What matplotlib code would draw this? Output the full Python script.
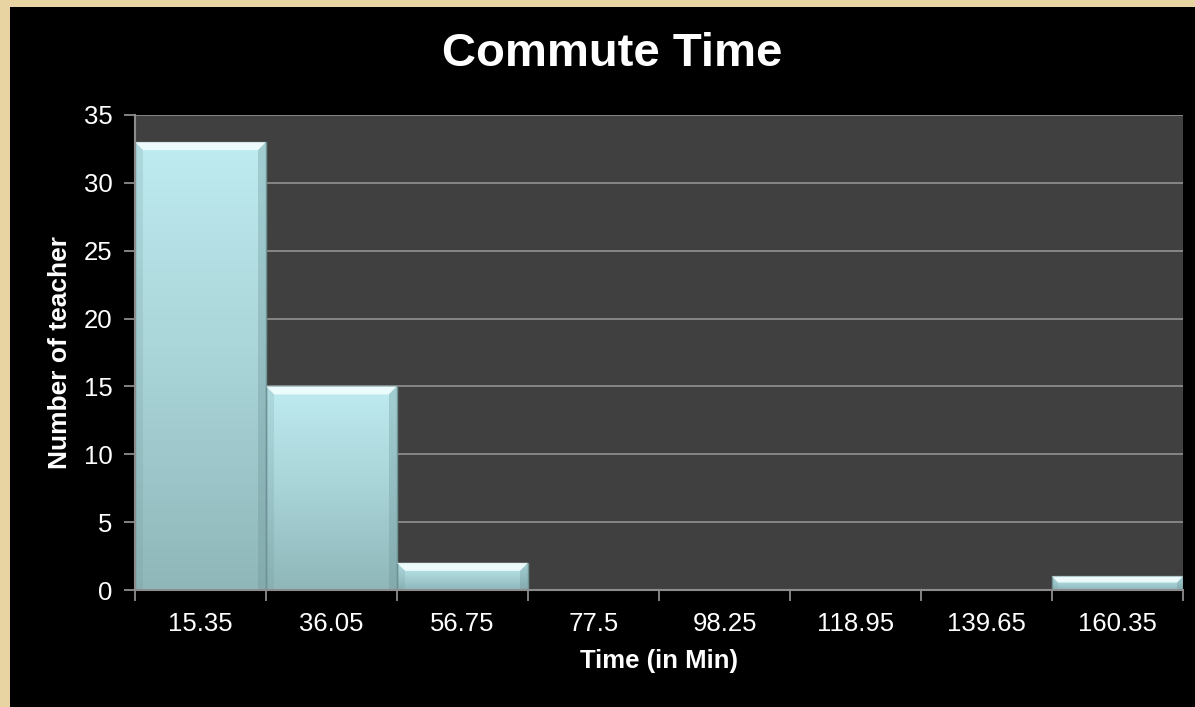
import numpy as np
import matplotlib
matplotlib.use("Agg")
import matplotlib.pyplot as plt
from matplotlib.patches import Rectangle, Polygon
from matplotlib.colors import LinearSegmentedColormap

categories = ["15.35", "36.05", "56.75", "77.5", "98.25", "118.95", "139.65", "160.35"]
counts = [33, 15, 2, 0, 0, 0, 0, 1]
y_ticks = [0, 5, 10, 15, 20, 25, 30, 35]
title = "Commute Time"
xlabel = "Time (in Min)"
ylabel = "Number of teacher"

plt.rcParams['font.family'] = ['Liberation Sans', 'DejaVu Sans']

W, H = 1195, 707
fig = plt.figure(figsize=(W / 100, H / 100), dpi=100)
fig.patch.set_facecolor('#E8D3A2')

# black chart frame
fig.patches.append(Rectangle((10 / W, 0), 1 - 10 / W, 1 - 7 / H, transform=fig.transFigure,
                             facecolor='black', edgecolor='none', zorder=-5))

left, right, top, bottom = 135, 1183, 115, 590
ax = fig.add_axes([left / W, 1 - bottom / H, (right - left) / W, (bottom - top) / H])
ax.set_zorder(1)
ax.set_facecolor('#404040')

n = len(categories)
x = np.arange(n)
ax.set_xlim(-0.5, n - 0.5)
ax.set_ylim(0, 35)

ax.yaxis.grid(True, color='#8C8C8C', linewidth=1.3, zorder=1)
ax.set_axisbelow(True)

bars = ax.bar(x, counts, width=1.0, color='none', edgecolor='#6F9295', linewidth=1.0, zorder=3)

cmap = LinearSegmentedColormap.from_list('bar', ['#8FB7BA', '#A8D3D7', '#BFECF1'])
grad = np.linspace(0, 1, 256).reshape(-1, 1)
for b, v in zip(bars, counts):
    if v <= 0:
        continue
    x0, w = b.get_x(), b.get_width()
    im = ax.imshow(grad, cmap=cmap, origin='lower', aspect='auto',
                   extent=(x0, x0 + w, 0, v), zorder=2)
    im.set_clip_path(b)

ax.set_xlim(-0.5, n - 0.5)
ax.set_ylim(0, 35)

# bevel highlight on top of each bar (pixel offsets from data corners)
fig.canvas.draw()
d = 8
for b, v in zip(bars, counts):
    if v <= 0:
        continue
    x0, w = b.get_x(), b.get_width()
    (px0, py), (px1, _) = ax.transData.transform([(x0, v), (x0 + w, v)])
    pyb = ax.transData.transform([(x0, 0)])[0][1]
    dd = min(d, (py - pyb) * 0.45)
    top_poly = Polygon([(px0, py), (px1, py), (px1 - dd, py - dd), (px0 + dd, py - dd)],
                       closed=True, facecolor='#F2FDFE', edgecolor='none',
                       zorder=4, alpha=0.9)
    side_r = Polygon([(px1, py), (px1, pyb), (px1 - dd, pyb), (px1 - dd, py - dd)],
                     closed=True, facecolor='#6E9598', edgecolor='none',
                     zorder=4, alpha=0.35)
    side_l = Polygon([(px0, py), (px0, pyb), (px0 + dd, pyb), (px0 + dd, py - dd)],
                     closed=True, facecolor='#6E9598', edgecolor='none',
                     zorder=4, alpha=0.2)
    for p in (top_poly, side_l, side_r):
        ax.add_artist(p)
        p.set_transform(matplotlib.transforms.IdentityTransform())
        p.set_clip_on(False)

# axes styling
for s in ['top', 'right']:
    ax.spines[s].set_visible(False)
for s in ['left', 'bottom']:
    ax.spines[s].set_color('#8C8C8C')
    ax.spines[s].set_linewidth(1.5)
    ax.spines[s].set_zorder(5)

ax.set_yticks(y_ticks)
ax.set_yticklabels([str(t) for t in y_ticks])
ax.tick_params(axis='y', colors='#8C8C8C', length=8, width=1.3, labelcolor='white',
               labelsize=18.5, pad=8)

ax.set_xticks(np.arange(n + 1) - 0.5)
ax.set_xticklabels([''] * (n + 1))
ax.set_xticks(x, minor=True)
ax.set_xticklabels(categories, minor=True)
ax.tick_params(axis='x', which='major', colors='#8C8C8C', length=8, width=1.3)
ax.tick_params(axis='x', which='minor', length=0, labelcolor='white', labelsize=18.5, pad=16)

fig.text(612 / W, 1 - 54 / H, title, color='white', fontsize=34,
         fontweight='bold', ha='center', va='center')
fig.text((left + right) / 2 / W, 1 - 661 / H, xlabel, color='white', fontsize=18.5,
         fontweight='bold', ha='center', va='center')
fig.text(60 / W, 1 - ((top + bottom) / 2) / H, ylabel, color='white', fontsize=19,
         fontweight='bold', ha='center', va='center', rotation=90)

fig.savefig('out.png', dpi=100, facecolor=fig.get_facecolor())
